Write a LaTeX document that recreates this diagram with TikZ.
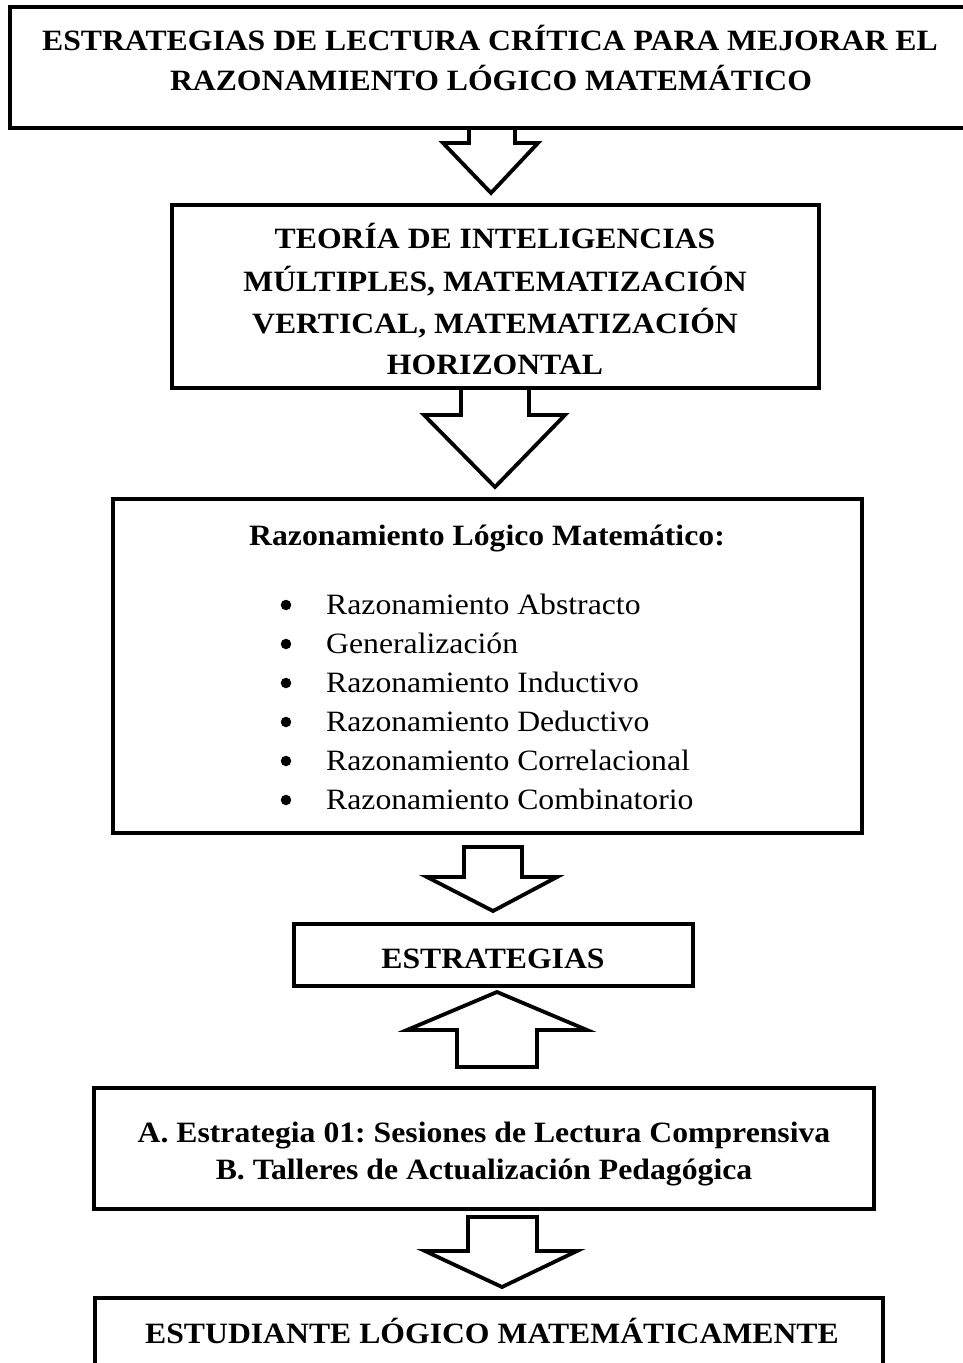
\documentclass[tikz,border=0pt]{standalone}
\usepackage{fontspec}
\setmainfont[FakeStretch=1.075]{Liberation Serif}
\frenchspacing
\begin{document}
\begin{tikzpicture}[x=1pt,y=-1pt,
  box/.style={draw, line width=4.2pt, fill=white, inner sep=0pt, line join=miter},
  blockarrow/.style={draw, line width=3.8pt, fill=white, line join=miter},
  bt/.style={font=\fontsize{29.5}{35}\selectfont\bfseries, anchor=base, inner sep=0pt},
  rt/.style={font=\fontsize{29.5}{35}\selectfont, anchor=base west, inner sep=0pt},
  bul/.style={circle, fill=black, inner sep=0pt, minimum size=10.5pt}]
\useasboundingbox (0,0) rectangle (963,1363);
\fill[white] (0,0) rectangle (963,1363);

% boxes
\node[box, minimum width=962, minimum height=121] (b1) at (491,67.5) {};
\node[box, minimum width=647, minimum height=183] (b2) at (495.5,296.5) {};
\node[box, minimum width=749, minimum height=334] (b3) at (487.5,666) {};
\node[box, minimum width=399, minimum height=62] (b4) at (493.5,955) {};
\node[box, minimum width=780, minimum height=121] (b5) at (484,1148.5) {};
\node[box, minimum width=788, minimum height=102] (b6) at (489,1349) {};

% block arrows
\draw[blockarrow] (469,128) -- (469,143) -- (443,143) -- (491,193) -- (538,143) -- (515,143) -- (515,128) -- cycle;
\draw[blockarrow] (461,388) -- (461,415) -- (424,415) -- (495,487) -- (565,415) -- (529,415) -- (529,388) -- cycle;
\draw[blockarrow] (464,847) -- (464,877) -- (427,877) -- (493,911) -- (557,877) -- (522,877) -- (522,847) -- cycle;
\draw[blockarrow] (497,992) -- (587,1030) -- (537,1030) -- (537,1067) -- (457,1067) -- (457,1030) -- (407,1030) -- cycle;
\draw[blockarrow] (468,1217) -- (468,1251) -- (425,1251) -- (502,1287) -- (577,1251) -- (537,1251) -- (537,1217) -- cycle;

% texts
\node[bt] (t1a) at (490,50) {ESTRATEGIAS DE LECTURA CRÍTICA PARA MEJORAR EL};
\node[bt] (t1b) at (491,90) {RAZONAMIENTO LÓGICO MATEMÁTICO};

\node[bt] (t2a) at (495,248) {TEORÍA DE INTELIGENCIAS};
\node[bt] (t2b) at (495,291) {MÚLTIPLES, MATEMATIZACIÓN};
\node[bt] (t2c) at (495,333) {VERTICAL, MATEMATIZACIÓN};
\node[bt] (t2d) at (495,374) {HORIZONTAL};

\node[bt] (t3) at (487,545) {Razonamiento Lógico Matemático:};
\foreach \yy/\txt [count=\i] in {614/Razonamiento Abstracto, 653/Generalización, 692/Razonamiento Inductivo, 731/Razonamiento Deductivo, 770/Razonamiento Correlacional, 809/Razonamiento Combinatorio}{
  \node[bul] (d\i) at (286,{\yy-9}) {};
  \node[rt] (i\i) at (326,\yy) {\txt};
}

\node[bt] (t4) at (493,968) {ESTRATEGIAS};

\node[bt] (t5a) at (484,1142) {A. Estrategia 01: Sesiones de Lectura Comprensiva};
\node[bt] (t5b) at (484,1179) {B. Talleres de Actualización Pedagógica};

\node[bt] (t6) at (492,1343) {ESTUDIANTE LÓGICO MATEMÁTICAMENTE};
\end{tikzpicture}
\end{document}
